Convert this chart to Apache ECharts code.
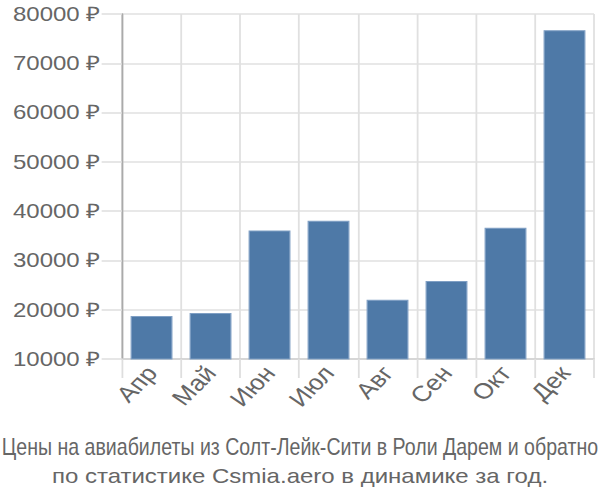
<!DOCTYPE html>
<html><head><meta charset="utf-8">
<script src="https://cdn.jsdelivr.net/npm/echarts@6/dist/echarts.min.js"></script>
<style>html,body{margin:0;padding:0;background:#fff;overflow:hidden}
#c{width:500px;height:500px;transform:scaleX(1.2);transform-origin:0 0}</style>
</head><body><div id="c"></div>
<script>
const categories = ['Апр','Май','Июн','Июл','Авг','Сен','Окт','Дек'];
const prices = [18750, 19350, 36050, 38050, 22000, 25850, 36650, 76700];
const yTicks = [10000, 20000, 30000, 40000, 50000, 60000, 70000, 80000];
const titleLines = ['Цены на авиабилеты из Солт-Лейк-Сити в Роли Дарем и обратно','по статистике Csmia.aero в динамике за год.'];

const FONT = '"Liberation Sans", Arial, sans-serif';
const fs1 = 23, fs2 = 20;
const cv = document.createElement('canvas').getContext('2d');
cv.font = fs1 + 'px ' + FONT;
const w1 = cv.measureText(titleLines[0]).width;
const sx1 = Math.min(1, 497.5 / w1);

const chart = echarts.init(document.getElementById('c'), null, {renderer:'svg'});
chart.setOption({
  animation:false,
  grid:{left:101.7, right:5, top:14, bottom:141, containLabel:false},
  xAxis:{type:'category', data:categories, boundaryGap:true,
    axisLine:{show:true, lineStyle:{color:'#d0d0d0', width:1.5}},
    axisTick:{show:true, length:19, lineStyle:{color:'#dedede', width:1.5}},
    splitLine:{show:true, lineStyle:{color:'#e0e0e0', width:1.5}},
    axisLabel:{rotate:50, fontSize:22, color:'#666', fontFamily:FONT, margin:10, interval:0}
  },
  yAxis:{type:'value', min:yTicks[0], max:yTicks[yTicks.length-1], interval:10000,
    axisLine:{show:true, lineStyle:{color:'#aaa', width:1.5}},
    axisTick:{show:true, length:17, lineStyle:{color:'#dedede', width:1.5}},
    splitLine:{show:true, lineStyle:{color:'#e0e0e0', width:1.5}},
    axisLabel:{formatter:v => v + ' ₽', fontSize:20, color:'#666', fontFamily:FONT, margin:18}
  },
  series:[{type:'bar', data:prices, barCategoryGap:'29%',
    itemStyle:{color:'#4e79a7', borderColor:'#7f9fc4', borderWidth:1}}],
  graphic:[
    {type:'text', x:250, y:447, scaleX:sx1,
     style:{text:titleLines[0], font:fs1+'px '+FONT, fill:'#666', align:'center', verticalAlign:'middle'}},
    {type:'text', x:250, y:476,
     style:{text:titleLines[1], font:fs2+'px '+FONT, fill:'#666', align:'center', verticalAlign:'middle'}}
  ]
});
</script></body></html>
